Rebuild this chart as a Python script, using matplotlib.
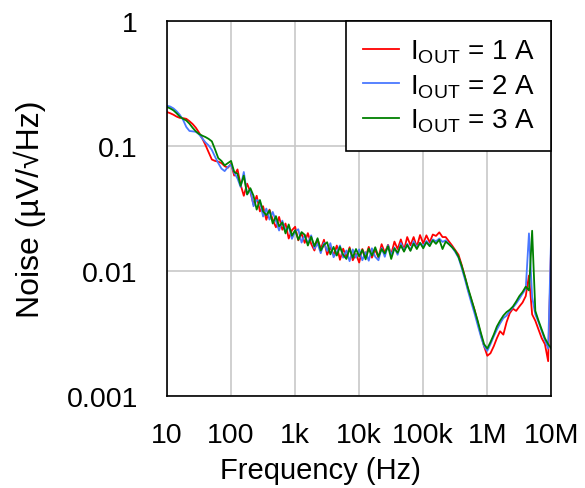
import matplotlib
matplotlib.use('Agg')
import matplotlib.pyplot as plt

plt.rcParams['font.family'] = ['Liberation Sans', 'DejaVu Sans']
plt.rcParams['mathtext.fontset'] = 'custom'
plt.rcParams['mathtext.rm'] = 'Liberation Sans'
plt.rcParams['mathtext.it'] = 'Liberation Sans:italic'

# Data
freq = [10, 11.2, 12.6, 14.1, 15.8, 17.8, 20, 22.4, 25.1, 28.2,
        31.6, 35.5, 39.8, 44.7, 50.1, 56.2, 63.1, 70.8, 79.4, 89.1,
        100, 112, 126, 141, 158, 178, 200, 224, 251, 282,
        316, 355, 398, 447, 501, 562, 631, 708, 794, 891,
        1e3, 1.12e3, 1.26e3, 1.41e3, 1.58e3, 1.78e3, 2e3, 2.24e3, 2.51e3, 2.82e3,
        3.16e3, 3.55e3, 3.98e3, 4.47e3, 5.01e3, 5.62e3, 6.31e3, 7.08e3, 7.94e3, 8.91e3,
        1e4, 1.12e4, 1.26e4, 1.41e4, 1.58e4, 1.78e4, 2e4, 2.24e4, 2.51e4, 2.82e4,
        3.16e4, 3.55e4, 3.98e4, 4.47e4, 5.01e4, 5.62e4, 6.31e4, 7.08e4, 7.94e4, 8.91e4,
        1e5, 1.12e5, 1.26e5, 1.41e5, 1.58e5, 1.78e5, 2e5, 2.24e5, 2.51e5, 2.82e5,
        3.16e5, 3.55e5, 3.98e5, 4.47e5, 5.01e5, 5.62e5, 6.31e5, 7.08e5, 7.94e5, 8.91e5,
        1e6, 1.12e6, 1.26e6, 1.41e6, 1.58e6, 1.78e6, 2e6, 2.24e6, 2.51e6, 2.82e6,
        3.16e6, 3.55e6, 3.98e6, 4.47e6, 5.01e6, 5.62e6, 6.31e6, 7.08e6, 7.94e6, 8.91e6,
        1e7]

noise_1a = [0.187, 0.183, 0.178, 0.172, 0.168, 0.167, 0.165, 0.158, 0.150, 0.140,
            0.128, 0.115, 0.102, 0.089, 0.078, 0.076, 0.075, 0.073, 0.069, 0.067,
            0.072, 0.058, 0.065, 0.049, 0.040, 0.050, 0.043, 0.034, 0.040, 0.030,
            0.033, 0.0257, 0.031, 0.0257, 0.0224, 0.0271, 0.0214, 0.0240, 0.0182, 0.0212,
            0.0226, 0.0176, 0.0200, 0.0168, 0.0201, 0.0165, 0.0146, 0.0179, 0.0150, 0.0178,
            0.0135, 0.0155, 0.0134, 0.0160, 0.0123, 0.0151, 0.0129, 0.0155, 0.0122, 0.0137,
            0.0117, 0.0150, 0.0130, 0.0156, 0.0128, 0.0148, 0.0128, 0.0164, 0.0140, 0.0162,
            0.0136, 0.0172, 0.0150, 0.0179, 0.0148, 0.0187, 0.0161, 0.0187, 0.0156, 0.0194,
            0.0166, 0.0193, 0.0170, 0.0196, 0.0191, 0.0204, 0.0187, 0.0187, 0.0173, 0.0160,
            0.0147, 0.0135, 0.0112, 0.0090, 0.0071, 0.0059, 0.0049, 0.0039, 0.0031, 0.0025,
            0.0021, 0.0022, 0.0025, 0.0029, 0.0033, 0.0031, 0.0039, 0.0046, 0.0050, 0.0048,
            0.0052, 0.0056, 0.0063, 0.0092, 0.0045, 0.0040, 0.0034, 0.0029, 0.0026, 0.0019,
            0.019]

noise_2a = [0.210, 0.207, 0.200, 0.190, 0.178, 0.162, 0.142, 0.132, 0.131, 0.130,
            0.124, 0.115, 0.107, 0.101, 0.093, 0.082, 0.073, 0.066, 0.063, 0.068,
            0.071, 0.061, 0.055, 0.047, 0.062, 0.041, 0.045, 0.033, 0.037, 0.036,
            0.0273, 0.0316, 0.0258, 0.0297, 0.0252, 0.0211, 0.0253, 0.0209, 0.0227, 0.0181,
            0.0208, 0.0216, 0.0169, 0.0194, 0.0166, 0.0193, 0.0151, 0.0166, 0.0139, 0.0168,
            0.0145, 0.0167, 0.0129, 0.0142, 0.0160, 0.0128, 0.0146, 0.0120, 0.0149, 0.0128,
            0.0149, 0.0122, 0.0142, 0.0121, 0.0152, 0.0130, 0.0122, 0.0153, 0.0130, 0.0161,
            0.0134, 0.0154, 0.0135, 0.0167, 0.0146, 0.0165, 0.0147, 0.0173, 0.0155, 0.0168,
            0.0158, 0.0174, 0.0162, 0.0179, 0.0173, 0.0182, 0.0171, 0.0176, 0.0165, 0.0155,
            0.0142, 0.0128, 0.0106, 0.0086, 0.0069, 0.0056, 0.0046, 0.0037, 0.0030, 0.0025,
            0.0023, 0.0026, 0.0030, 0.0034, 0.0038, 0.0042, 0.0044, 0.0048, 0.0051, 0.0055,
            0.0060, 0.0066, 0.0072, 0.0200, 0.0062, 0.0045, 0.0039, 0.0033, 0.0028, 0.0024,
            0.022]

noise_3a = [0.205, 0.200, 0.193, 0.183, 0.172, 0.165, 0.160, 0.151, 0.140, 0.131,
            0.125, 0.121, 0.118, 0.114, 0.109, 0.094, 0.080, 0.076, 0.070, 0.073,
            0.076, 0.062, 0.060, 0.048, 0.058, 0.041, 0.046, 0.040, 0.031, 0.037,
            0.030, 0.0280, 0.0305, 0.0240, 0.0275, 0.0228, 0.0245, 0.0200, 0.0236, 0.0192,
            0.0212, 0.0178, 0.0205, 0.0195, 0.0160, 0.0188, 0.0158, 0.0183, 0.0146, 0.0162,
            0.0170, 0.0136, 0.0156, 0.0133, 0.0156, 0.0135, 0.0125, 0.0151, 0.0128, 0.0150,
            0.0131, 0.0148, 0.0124, 0.0151, 0.0133, 0.0155, 0.0130, 0.0150, 0.0138, 0.0158,
            0.0125, 0.0152, 0.0140, 0.0160, 0.0143, 0.0162, 0.0145, 0.0166, 0.0150, 0.0168,
            0.0152, 0.0170, 0.0158, 0.0176, 0.0165, 0.0178, 0.0150, 0.0172, 0.0164, 0.0155,
            0.0145, 0.0130, 0.0110, 0.0090, 0.0073, 0.0060, 0.0049, 0.0040, 0.0032, 0.0026,
            0.0024, 0.0027, 0.0031, 0.0036, 0.0040, 0.0044, 0.0047, 0.0049, 0.0052, 0.0057,
            0.0063, 0.0068, 0.0075, 0.0070, 0.0210, 0.0048, 0.0040, 0.0034, 0.0029, 0.0026,
            0.0024]

labels = [r'$\mathregular{I_{OUT}}$ = 1 A', r'$\mathregular{I_{OUT}}$ = 2 A', r'$\mathregular{I_{OUT}}$ = 3 A']
colors = ['#FF0000', '#4A78FF', '#008000']

xticks = [10, 100, 1e3, 1e4, 1e5, 1e6, 1e7]
xticklabels = ['10', '100', '1k', '10k', '100k', '1M', '10M']
yticks = [0.001, 0.01, 0.1, 1]
yticklabels = ['0.001', '0.01', '0.1', '1']

fig = plt.figure(figsize=(5.85, 4.89), dpi=100)
ax = fig.add_axes([0.2855, 0.188, 0.657, 0.767])

for y, lab, c in zip([noise_1a, noise_2a, noise_3a], labels, colors):
    ax.plot(freq, y, color=c, lw=1.3, label=lab)

ax.set_xscale('log')
ax.set_yscale('log')
ax.set_xlim(10, 1e7)
ax.set_ylim(0.001, 1)
ax.set_xticks(xticks)
ax.set_xticklabels(xticklabels)
ax.set_yticks(yticks)
ax.set_yticklabels(yticklabels)
ax.minorticks_off()
ax.tick_params(axis='both', length=0, labelsize=20.5)
ax.tick_params(axis='x', pad=19)
ax.tick_params(axis='y', pad=21)
ax.grid(True, which='major', color='#C8C8C8', lw=1.2)
ax.set_axisbelow(True)
for s in ax.spines.values():
    s.set_linewidth(1.2)
    s.set_color('black')

ax.set_xlabel('Frequency (Hz)', fontsize=21)
ax.xaxis.set_label_coords(0.40, -0.16)
ax.set_ylabel('Noise (µV/√Hz)', fontsize=23)
ax.yaxis.set_label_coords(-0.315, 0.5)

leg = ax.legend(loc='upper right', borderaxespad=0, fancybox=False, edgecolor='black',
                framealpha=1, fontsize=20, handlelength=1.3, handletextpad=0.4,
                labelspacing=0.25, borderpad=0.6)
leg.get_frame().set_linewidth(1.2)

fig.savefig('out.png', dpi=100)
